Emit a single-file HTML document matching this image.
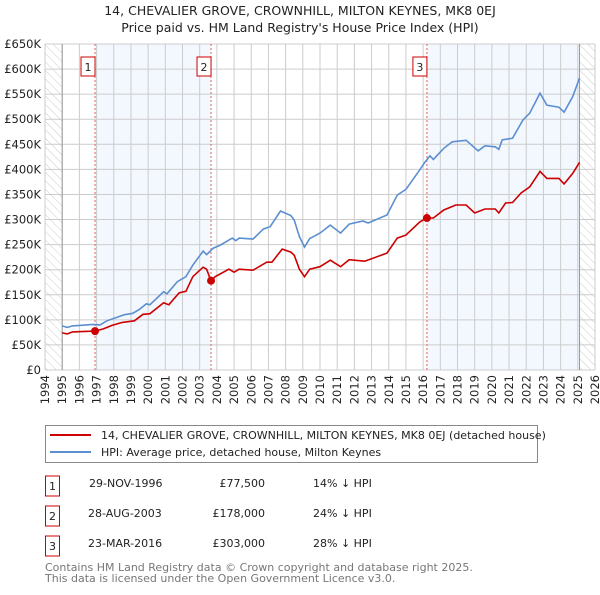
<!DOCTYPE html>
<html><head><meta charset="utf-8"><style>
body{margin:0;background:#fff;font-family:"Liberation Sans","DejaVu Sans",sans-serif;}
svg text{font-family:"DejaVu Sans","Liberation Sans",sans-serif;}
</style></head><body>
<svg id="chart" width="600" height="590" viewBox="0 0 600 590" xmlns="http://www.w3.org/2000/svg">
<defs><pattern id="hatch" width="6" height="6" patternUnits="userSpaceOnUse" patternTransform="rotate(-45)"><line x1="0" y1="0" x2="0" y2="6" stroke="#ccc" stroke-width="1"/></pattern></defs>
<text x="300" y="15" text-anchor="middle" font-size="12.5" fill="#222">14, CHEVALIER GROVE, CROWNHILL, MILTON KEYNES, MK8 0EJ</text>
<text x="300" y="32" text-anchor="middle" font-size="12.5" fill="#222">Price paid vs. HM Land Registry's House Price Index (HPI)</text>
<g id="plot"></g>
<g>
<rect x="45.5" y="425.5" width="492" height="37" fill="#fff" stroke="#888"/>
<line x1="50" y1="435" x2="91" y2="435" stroke="#cc0000" stroke-width="2"/>
<text x="101" y="439" font-size="11" fill="#222">14, CHEVALIER GROVE, CROWNHILL, MILTON KEYNES, MK8 0EJ (detached house)</text>
<line x1="50" y1="452" x2="91" y2="452" stroke="#5b8fd0" stroke-width="2"/>
<text x="101" y="456" font-size="11" fill="#222">HPI: Average price, detached house, Milton Keynes</text>
</g>
<g font-size="11" fill="#222">
<rect x="45.5" y="476" width="14" height="20" fill="#fff" stroke="#cc0000"/><text x="52.5" y="490" text-anchor="middle">1</text>
<text x="89" y="487">29-NOV-1996</text><text x="265" y="487" text-anchor="end">£77,500</text><text x="313" y="487">14% ↓ HPI</text>
<rect x="45.5" y="506" width="14" height="20" fill="#fff" stroke="#cc0000"/><text x="52.5" y="520" text-anchor="middle">2</text>
<text x="88" y="517">28-AUG-2003</text><text x="265" y="517" text-anchor="end">£178,000</text><text x="313" y="517">24% ↓ HPI</text>
<rect x="45.5" y="536" width="14" height="20" fill="#fff" stroke="#cc0000"/><text x="52.5" y="550" text-anchor="middle">3</text>
<text x="88" y="547">23-MAR-2016</text><text x="265" y="547" text-anchor="end">£303,000</text><text x="313" y="547">28% ↓ HPI</text>
</g>
<text x="45" y="571" font-size="11" fill="#777">Contains HM Land Registry data © Crown copyright and database right 2025.</text>
<text x="45" y="582" font-size="11" fill="#777">This data is licensed under the Open Government Licence v3.0.</text>
</svg>
<script>
const yTicks=[0,50,100,150,200,250,300,350,400,450,500,550,600,650];
const yTickLabels=["£0","£50K","£100K","£150K","£200K","£250K","£300K","£350K","£400K","£450K","£500K","£550K","£600K","£650K"];
const xYears=[1994,1995,1996,1997,1998,1999,2000,2001,2002,2003,2004,2005,2006,2007,2008,2009,2010,2011,2012,2013,2014,2015,2016,2017,2018,2019,2020,2021,2022,2023,2024,2025,2026];
const hpiYears=[1995.0,1995.3,1995.6,1996.8,1997.2,1997.6,1998.2,1998.6,1999.1,1999.5,1999.9,2000.1,2000.9,2001.1,2001.7,2002.2,2002.6,2003.2,2003.4,2003.8,2004.2,2004.9,2005.1,2005.3,2006.1,2006.7,2007.1,2007.7,2008.3,2008.5,2008.8,2009.1,2009.4,2010.0,2010.6,2011.2,2011.7,2012.5,2012.8,2013.9,2014.5,2015.0,2015.8,2016.1,2016.4,2016.6,2017.2,2017.7,2018.5,2019.2,2019.6,2020.2,2020.4,2020.6,2021.2,2021.8,2022.2,2022.8,2023.2,2023.9,2024.2,2024.7,2025.1];
const hpiValues=[88,85,88,91,90,98,105,110,113,121,132,130,156,152,176,186,209,237,230,243,249,263,258,263,261,281,286,317,308,299,266,245,262,273,289,273,291,297,293,309,349,360,399,414,427,420,442,455,458,437,447,445,440,459,462,498,512,552,528,524,514,545,582];
const priceYears=[1995.0,1995.3,1995.6,1996.9,1997.4,1997.9,1998.5,1999.2,1999.7,2000.1,2000.9,2001.2,2001.8,2002.2,2002.6,2003.2,2003.4,2003.65,2003.9,2004.7,2005.0,2005.3,2006.1,2006.9,2007.2,2007.8,2008.3,2008.5,2008.8,2009.1,2009.4,2010.0,2010.6,2011.2,2011.7,2012.6,2013.9,2014.5,2015.0,2015.8,2016.2,2016.6,2017.2,2017.9,2018.5,2019.0,2019.6,2020.2,2020.4,2020.8,2021.2,2021.7,2022.2,2022.8,2023.2,2023.9,2024.2,2024.7,2025.1];
const priceValues=[74,72,76,77.5,82,89,95,98,111,112,134,130,154,157,186,205,201,178,186,201,195,201,199,215,215,241,235,229,201,186,201,206,219,206,220,217,233,263,269,295,303,303,319,329,329,313,321,321,313,333,334,353,365,396,382,382,371,392,414];
const saleYears=[1996.91,2003.66,2016.22];
const saleValues=[77.5,178,303];
const saleLabels=["1","2","3"];
const NS="http://www.w3.org/2000/svg";
const X0=45,X1=595,Y0=370,Y1=44;
const xs=y=>X0+(y-1994)/32*(X1-X0);
const ys=v=>Y0-v/650*(Y0-Y1);
const g=document.getElementById('plot');
function mk(t,a){const e=document.createElementNS(NS,t);for(const k in a)e.setAttribute(k,a[k]);g.appendChild(e);return e;}
let e;
e=mk('rect',{x:xs(saleYears[0]),y:Y1,width:xs(saleYears[1])-xs(saleYears[0]),height:Y0-Y1,fill:'#eef3fd',opacity:0.7});

e=mk('rect',{x:xs(saleYears[2]),y:Y1,width:xs(2025.1)-xs(saleYears[2]),height:Y0-Y1,fill:'#eef3fd',opacity:0.7});

e=mk('rect',{x:X0,y:Y1,width:xs(1995)-X0,height:Y0-Y1,fill:'url(#hatch)'});

e=mk('rect',{x:xs(2025.1),y:Y1,width:X1-xs(2025.1),height:Y0-Y1,fill:'url(#hatch)'});

yTicks.forEach((v,i)=>{
 e=mk('line',{x1:X0,x2:X1,y1:ys(v),y2:ys(v),stroke:'#ccc','stroke-width':1});
 
 e=mk('text',{x:X0-4,y:ys(v)+4,'text-anchor':'end','font-size':'11.5',fill:'#222'});e.textContent=yTickLabels[i];
 
});
xYears.forEach(yr=>{
 e=mk('line',{x1:xs(yr),x2:xs(yr),y1:Y1,y2:Y0,stroke:'#ccc','stroke-width':1});
 
 e=mk('text',{x:0,y:0,'text-anchor':'end','font-size':'11.5',fill:'#222',transform:`translate(${xs(yr)+4},${Y0+5}) rotate(-90)`});e.textContent=yr;
 
});
e=mk('line',{x1:xs(1995),x2:xs(1995),y1:Y1,y2:Y0,stroke:'#999','stroke-width':1});

e=mk('line',{x1:xs(2025.1),x2:xs(2025.1),y1:Y1,y2:Y0,stroke:'#999','stroke-width':1});

saleYears.forEach((yr,i)=>{
 e=mk('line',{x1:xs(yr),x2:xs(yr),y1:Y1,y2:Y0,stroke:'#e06060','stroke-width':1,'stroke-dasharray':'2,2'});
 
 e=mk('rect',{x:xs(yr)-14,y:57,width:14,height:19,fill:'#fff',stroke:'#cc0000'});
 
 e=mk('text',{x:xs(yr)-7,y:71,'text-anchor':'middle','font-size':'11',fill:'#222'});e.textContent=saleLabels[i];
 
});
const pts=(a,b)=>a.map((y,i)=>xs(y).toFixed(1)+','+ys(b[i]).toFixed(1)).join(' ');
e=mk('polyline',{points:pts(hpiYears,hpiValues),fill:'none',stroke:'#5b8fd0','stroke-width':1.6});

e=mk('polyline',{points:pts(priceYears,priceValues),fill:'none',stroke:'#cc0000','stroke-width':1.6});

saleYears.forEach((yr,i)=>{
 e=mk('circle',{cx:xs(yr),cy:ys(saleValues[i]),r:4,fill:'#cc0000'});
 
});
</script>
</body></html>
